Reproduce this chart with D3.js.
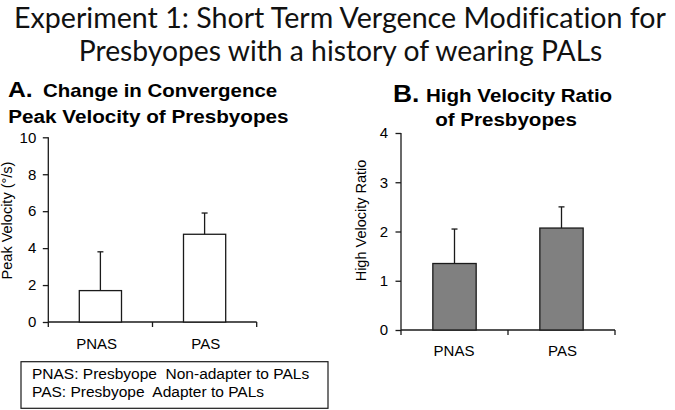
<!DOCTYPE html>
<html>
<head>
<meta charset="utf-8">
<script src="https://cdn.jsdelivr.net/npm/d3@7"></script>
<style>
  html, body { margin: 0; padding: 0; background: #fff; }
  svg { display: block; }
  text { white-space: pre; }
  .main-title { font-variant-ligatures: none; }
</style>
</head>
<body>
<svg id="chart" width="675" height="410"></svg>
<script>
// ---------- DATA ----------
const mainTitle = ["Experiment 1: Short Term Vergence Modification for",
                   "Presbyopes with a history of wearing PALs"];
const categories = ["PNAS", "PAS"];
const velocityMeans = [1.7, 4.75];
const velocityErrors = [2.1, 1.15];
const velocityTicks = [0, 2, 4, 6, 8, 10];
const ratioMeans = [1.35, 2.07];
const ratioErrors = [0.7, 0.43];
const ratioTicks = [0, 1, 2, 3, 4];
const legendLines = ["PNAS: Presbyope  Non-adapter to PALs",
                     "PAS: Presbyope  Adapter to PALs"];

// ---------- SETUP ----------
const svg = d3.select("#chart");
const SX = 1.1;              // horizontal stretch of the bold panel titles
const SANS = "'Liberation Sans', Arial, sans-serif";
const INK = "#1a1a1a";

function stxt(g, x, y, str, o = {}) {
  const sx = o.stretch ? SX : 1;
  return g.append("text")
    .attr("transform", `translate(${x},${y}) scale(${sx},1)` + (o.rot ? " rotate(-90)" : ""))
    .attr("text-anchor", o.anchor || "start")
    .attr("font-family", SANS)
    .attr("font-size", o.size || 14)
    .attr("font-weight", o.bold ? "bold" : "normal")
    .attr("fill", "#000")
    .text(str);
}

// main title: fit the natural width, then stretch vertically to the target cap height
const titleSpecs = [{cx: 340, y: 27.5, len: 652}, {cx: 340.5, y: 61, len: 524}];
const TITLE_FS = 28;
mainTitle.forEach((t, i) => {
  const el = svg.append("text")
    .attr("class", "main-title")
    .attr("text-anchor", "middle")
    .attr("font-family", "Lato, 'Open Sans', sans-serif")
    .attr("font-size", TITLE_FS)
    .attr("fill", "#111")
    .text(t);
  const w = el.node().getComputedTextLength();
  const f = titleSpecs[i].len / w;
  el.attr("font-size", TITLE_FS * f)
    .attr("transform", `translate(${titleSpecs[i].cx},${titleSpecs[i].y}) scale(1,${1 / f})`);
});

function drawPanel(p) {
  const g = svg.append("g");
  const x = d3.scaleBand().domain(categories).range([p.x0, p.x1]).padding(0);
  const y = d3.scaleLinear().domain([0, p.max]).range([p.yBottom, p.yTop]);
  const bw = x.bandwidth() * 0.405;

  // y axis
  const yAxis = g.append("g")
    .attr("transform", `translate(${p.x0},0)`)
    .call(d3.axisLeft(y).tickValues(p.ticks).tickFormat(d3.format("d"))
            .tickSize(p.tickLen).tickSizeOuter(0).tickPadding(p.tickPad));
  yAxis.select(".domain").attr("stroke", INK).attr("stroke-width", 1.3)
       .attr("d", `M0,${p.yBottom + 5}V${p.yTop}`);
  yAxis.selectAll(".tick line").attr("stroke", INK).attr("stroke-width", 1.3);
  yAxis.selectAll(".tick text")
    .attr("font-family", SANS).attr("font-size", 15).attr("fill", "#000");

  // x axis: baseline with ticks at band boundaries
  g.append("line")
    .attr("x1", p.x0).attr("x2", p.x1)
    .attr("y1", y(0)).attr("y2", y(0))
    .attr("stroke", INK).attr("stroke-width", 1.3);
  const bounds = categories.map(c => x(c)).concat([x(categories[categories.length - 1]) + x.step()]);
  g.selectAll(".xb").data(bounds.slice(1)).join("line")
    .attr("x1", d => d).attr("x2", d => d)
    .attr("y1", y(0)).attr("y2", y(0) + 5)
    .attr("stroke", INK).attr("stroke-width", 1.3);

  // bars
  g.selectAll(".bar").data(categories).join("rect")
    .attr("x", c => x(c) + x.bandwidth() / 2 - bw / 2)
    .attr("y", (c, i) => y(p.means[i]))
    .attr("width", bw)
    .attr("height", (c, i) => y(0) - y(p.means[i]))
    .attr("fill", p.fill)
    .attr("stroke", INK).attr("stroke-width", 1.3);

  // error bars (upward only, small cap)
  categories.forEach((c, i) => {
    const cx = x(c) + x.bandwidth() / 2;
    const top = y(p.means[i] + p.errs[i]);
    g.append("line").attr("x1", cx).attr("x2", cx)
      .attr("y1", y(p.means[i])).attr("y2", top)
      .attr("stroke", INK).attr("stroke-width", 1.3);
    g.append("line").attr("x1", cx - 3).attr("x2", cx + 3)
      .attr("y1", top).attr("y2", top)
      .attr("stroke", INK).attr("stroke-width", 1.3);
    stxt(g, cx + p.catShift[i], p.catY, c, {anchor: "middle", size: 15});
  });

  // y label
  stxt(g, p.yLabelX, p.yLabelY, p.yLabel, {anchor: "middle", size: 14.5, rot: true});

  // panel titles
  p.titles.forEach(t => stxt(g, t.x, t.y, t.s, {size: t.size, bold: true, stretch: true, anchor: t.anchor || "start"}));
}

drawPanel({
  x0: 48.3, x1: 256.7, yTop: 137.3, yBottom: 322, max: 10, ticks: velocityTicks,
  tickLen: 5.5, tickPad: 6.5, means: velocityMeans, errs: velocityErrors, fill: "#fff",
  catY: 348.5, catShift: [-3.7, 1.2], yLabel: "Peak Velocity (°/s)", yLabelX: 12, yLabelY: 220.5,
  titles: [
    {x: 8, y: 97, s: "A.", size: 22.5},
    {x: 43, y: 97, s: "Change in Convergence", size: 18.6},
    {x: 8.3, y: 122.5, s: "Peak Velocity of Presbyopes", size: 18.8}
  ]
});

drawPanel({
  x0: 401, x1: 615, yTop: 133, yBottom: 330, max: 4, ticks: ratioTicks,
  tickLen: 5.5, tickPad: 7.5, means: ratioMeans, errs: ratioErrors, fill: "#808080",
  catY: 356, catShift: [-0.5, 1], yLabel: "High Velocity Ratio", yLabelX: 365.8, yLabelY: 220.5,
  titles: [
    {x: 393, y: 101.7, s: "B.", size: 24},
    {x: 426, y: 101.7, s: "High Velocity Ratio", size: 18.7},
    {x: 506, y: 125.7, s: "of Presbyopes", size: 18.7, anchor: "middle"}
  ]
});

// legend box
svg.append("rect")
  .attr("x", 21).attr("y", 361.7).attr("width", 307).attr("height", 46.6)
  .attr("fill", "none").attr("stroke", INK).attr("stroke-width", 1.2);
legendLines.forEach((t, i) => stxt(svg, 32, 378.8 + i * 18.3, t, {size: 15.5}));
</script>
</body>
</html>
